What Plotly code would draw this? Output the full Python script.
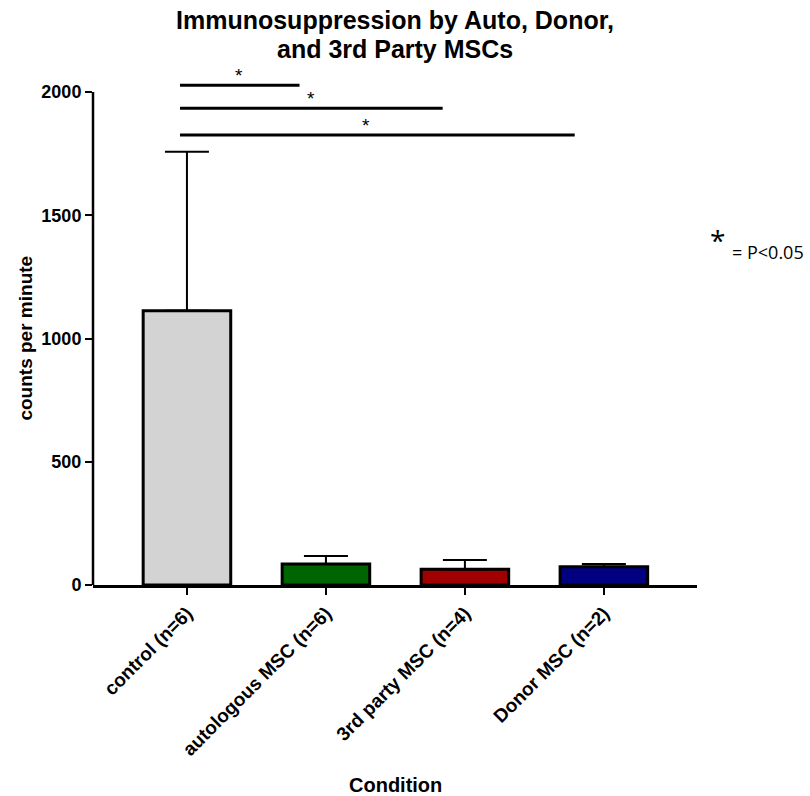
import plotly.graph_objects as go

categories = ["control (n=6)", "autologous MSC (n=6)", "3rd party MSC (n=4)", "Donor MSC (n=2)"]
means = [1113, 85, 64, 74]
sd_upper = [645, 33, 37, 11]
bar_colors = ["#D3D3D3", "#006400", "#A00000", "#000080"]

# significance brackets
sig_x0 = [-0.05, -0.05, -0.05]
sig_x1 = [0.81, 1.84, 2.79]
sig_y = [2028, 1935, 1826]
star_x = [0.374, 0.892, 1.288]
star_y = [2066, 1973, 1864]

y_ticks = [0, 500, 1000, 1500, 2000]

FONT = "Liberation Sans, Arial, sans-serif"

fig = go.Figure()
fig.add_trace(go.Bar(
    x=list(range(len(categories))), y=means, width=0.63,
    marker=dict(color=bar_colors, line=dict(color="black", width=3)),
    error_y=dict(type="data", array=sd_upper, arrayminus=[0]*len(means), symmetric=False,
                 color="black", thickness=2, width=22),
    showlegend=False,
))

for x0, x1, y in zip(sig_x0, sig_x1, sig_y):
    fig.add_trace(go.Scatter(x=[x0, x1], y=[y, y], mode="lines",
                             line=dict(color="black", width=3), showlegend=False,
                             hoverinfo="skip", cliponaxis=False))

for sx, sy in zip(star_x, star_y):
    fig.add_annotation(x=sx, y=sy, xref="x", yref="y", text="*", showarrow=False,
                       font=dict(family=FONT, size=19, color="black"))

# y axis line only up to top tick
fig.add_shape(type="line", xref="paper", yref="y", x0=0, x1=0, y0=0, y1=2000,
              line=dict(color="black", width=2.5), layer="above")

fig.update_layout(
    width=810, height=796,
    margin=dict(l=93, r=113, t=65, b=211),
    plot_bgcolor="white", paper_bgcolor="white",
    xaxis=dict(range=[-0.676, 3.67], tickmode="array", tickvals=list(range(len(categories))),
               ticktext=[f"<b>{c}</b>" for c in categories], tickangle=-45,
               showline=True, linecolor="black", linewidth=2.5,
               ticks="outside", ticklen=7, tickwidth=2, tickcolor="black",
               showgrid=False, zeroline=False,
               tickfont=dict(family=FONT, size=19, color="black")),
    yaxis=dict(range=[0, 2110], tickmode="array", tickvals=y_ticks,
               ticktext=[f"<b>{t}</b>" for t in y_ticks],
               showline=False, ticks="outside", ticklen=7, tickwidth=2, tickcolor="black",
               showgrid=False, zeroline=False,
               tickfont=dict(family=FONT, size=18, color="black")),
)

title_lines = ["Immunosuppression by Auto, Donor,", "and 3rd Party MSCs"]
for line, shift in zip(title_lines, [45, 16]):
    fig.add_annotation(x=0.5, y=1, xref="paper", yref="paper", yshift=shift, xanchor="center", yanchor="middle",
                       text=f"<b>{line}</b>",
                       showarrow=False, font=dict(family=FONT, size=25, color="black"))
fig.add_annotation(x=0.5, y=0, xref="paper", yref="paper", yshift=-200, xanchor="center", yanchor="middle",
                   text="<b>Condition</b>",
                   showarrow=False, font=dict(family=FONT, size=20, color="black"))
fig.add_annotation(x=0, y=1000, xref="paper", yref="y", xshift=-67, xanchor="center", yanchor="middle",
                   text="<b>counts per minute</b>",
                   textangle=-90, showarrow=False, font=dict(family=FONT, size=19, color="black"))

fig.add_annotation(x=1, y=1400, xref="paper", yref="y", xshift=20, xanchor="center", yanchor="middle", text="*",
                   showarrow=False, font=dict(family="Open Sans, sans-serif", size=28, color="black"))
fig.add_annotation(x=1, y=1351, xref="paper", yref="y", xshift=33, xanchor="left", yanchor="middle", text="= P<0.05",
                   showarrow=False, font=dict(family="Open Sans, sans-serif", size=18, color="black"))

fig.write_html("out.html")
